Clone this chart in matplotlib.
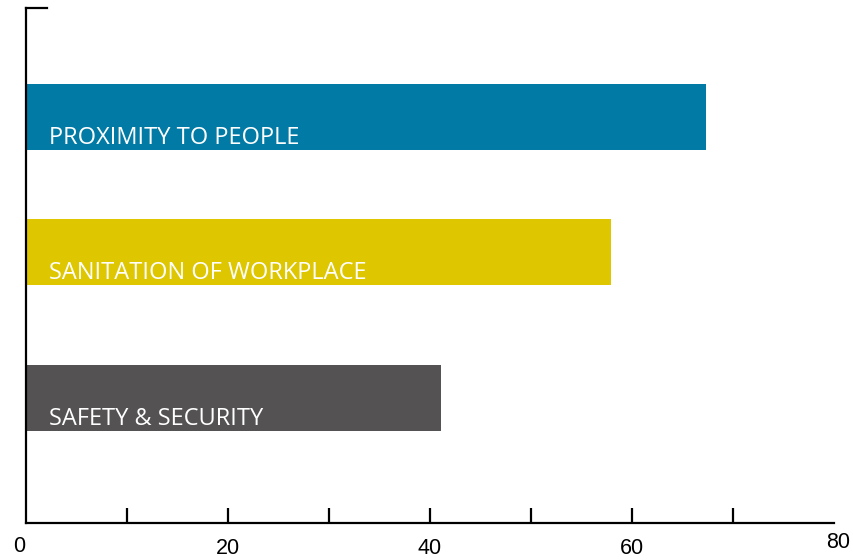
import matplotlib
matplotlib.use("Agg")
import matplotlib.pyplot as plt
from matplotlib.lines import Line2D

# Data
categories = ["PROXIMITY TO PEOPLE", "SANITATION OF WORKPLACE", "SAFETY & SECURITY"]
values = [67.3, 57.9, 41.1]
colors = ["#017BA6", "#DEC600", "#545253"]
tick_values = [10, 20, 30, 40, 50, 60, 70]
tick_labels = ["", "20", "", "40", "", "60", ""]

# Layout (vertical positions of the bars in axis units)
bar_centers = [406, 271, 125]
bar_height = 66

fig = plt.figure(figsize=(8.54, 5.6), dpi=100)
ax = fig.add_axes([26 / 854, 1 - 523 / 560, (834 - 26) / 854, (523 - 8) / 560])

ax.barh(bar_centers, values, height=bar_height, color=colors, zorder=2)

for y, label in zip(bar_centers, categories):
    ax.text(2.3, y - bar_height / 2 + 6, label, color="white",
            fontsize=17, fontfamily="Open Sans", fontweight="normal",
            ha="left", va="baseline", zorder=3)

ax.set_xlim(0, 80)
ax.set_ylim(0, 515)

for side in ("top", "right"):
    ax.spines[side].set_visible(False)
for side in ("left", "bottom"):
    ax.spines[side].set_linewidth(1.6)
    ax.spines[side].set_color("black")

ax.set_yticks([])
ax.set_xticks(tick_values)
ax.set_xticklabels(tick_labels, fontfamily="Liberation Sans", fontsize=15.5)
ax.tick_params(axis="x", direction="in", length=11, width=1.6, pad=11)

# End labels at the axis limits
ax.text(-0.7, -24, "0", transform=ax.transData, ha="center", va="center",
        fontfamily="Liberation Sans", fontsize=15.5, clip_on=False)
ax.text(80.4, -19, "80", transform=ax.transData, ha="center", va="center",
        fontfamily="Liberation Sans", fontsize=15.5, clip_on=False)

# Short cap at the top of the vertical axis
ax.add_line(Line2D([0, 2.1], [515, 515], color="black", linewidth=1.6,
                   clip_on=False, solid_capstyle="projecting"))

fig.savefig("out.png", dpi=100)
